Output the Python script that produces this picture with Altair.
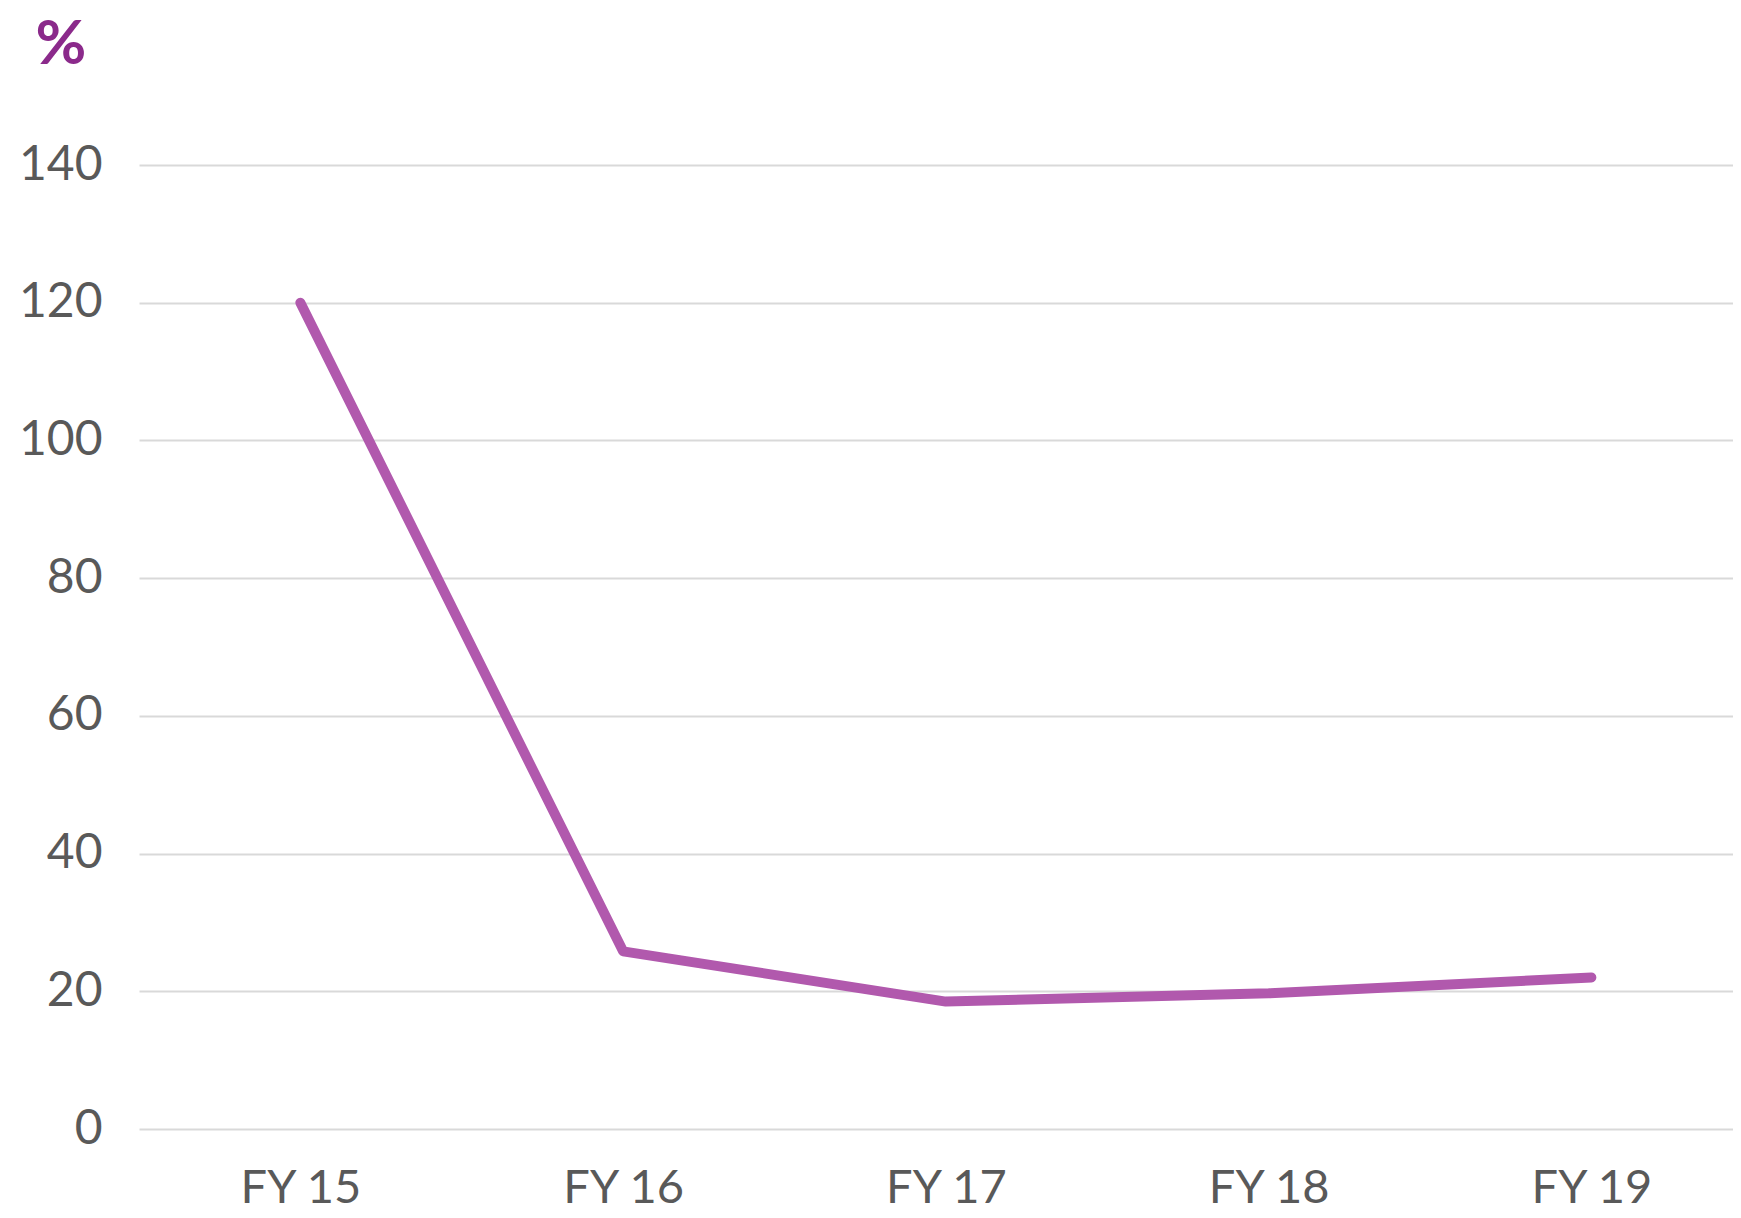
import json
import altair as alt
import pandas as pd

years = ["FY 15", "FY 16", "FY 17", "FY 18", "FY 19"]
values = [120, 25.8, 18.5, 19.7, 22.0]

df = pd.DataFrame({"idx": list(range(len(years))), "year": years, "value": values})

W, H = 1594, 964
STEP = 322.75  # category spacing in px
x_domain = [-0.5, -0.5 + W / STEP]

label_expr = json.dumps(years) + "[datum.value]"

line = alt.Chart(df).mark_line(
    color="#b159ad", strokeWidth=10, strokeCap="round", strokeJoin="round"
).encode(
    x=alt.X("idx:Q", title=None,
            scale=alt.Scale(domain=x_domain, nice=False, zero=False),
            axis=alt.Axis(values=list(range(len(years))), labelExpr=label_expr,
                          labelAngle=0, domain=False, ticks=False, grid=False,
                          labelFlush=False,
                          labelFont="Lato", labelFontSize=47, labelColor="#595959",
                          labelPadding=36)),
    y=alt.Y("value:Q", title=None,
            scale=alt.Scale(domain=[0, 140], nice=False, zero=True),
            axis=alt.Axis(values=[0, 20, 40, 60, 80, 100, 120, 140], domain=False, ticks=False,
                          grid=True, gridColor="#d9d9d9", gridWidth=2,
                          labelFont="Lato", labelFontSize=48, labelColor="#595959",
                          labelPadding=37)),
)

pct = alt.Chart(pd.DataFrame({"t": ["%"]})).mark_text(
    font="Lato", fontSize=62, fontWeight="bold", color="#8b2a8b",
    align="center", baseline="middle"
).encode(text="t:N", x=alt.value(-78), y=alt.value(-120))

chart = alt.layer(line, pct).properties(
    width=W, height=H,
    autosize=alt.AutoSizeParams(type="none"),
    padding={"left": 131, "top": 157, "right": 0, "bottom": 75},
).configure_view(stroke=None)

chart.save("out.html", embed_options={"renderer": "svg", "actions": False})
